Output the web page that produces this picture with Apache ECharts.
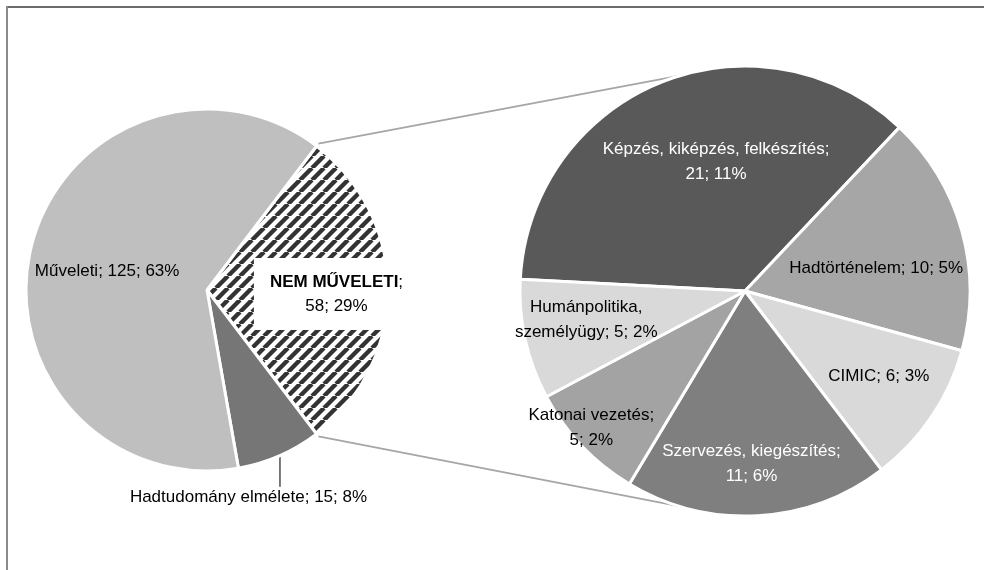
<!DOCTYPE html>
<html>
<head>
<meta charset="utf-8">
<script src="https://cdn.jsdelivr.net/npm/echarts@6/dist/echarts.min.js"></script>
<style>
  html, body { margin: 0; padding: 0; background: #fff; }
  #chart { width: 984px; height: 570px; }
</style>
</head>
<body>
<div id="chart"></div>
<script>
// fő kördiagram
const mainNames = ["NEM MŰVELETI", "Hadtudomány elmélete", "Műveleti"];
const mainValues = [58, 15, 125];
const mainPercents = ["29%", "8%", "63%"];
const mainColors = ["hatch", "#767676", "#bfbfbf"];

// a "NEM MŰVELETI" szelet bontása
const subNames = ["Képzés, kiképzés, felkészítés;", "Hadtörténelem;", "CIMIC;", "Szervezés, kiegészítés;", "Katonai vezetés;", "Humánpolitika,\nszemélyügy;"];
const subValues = [21, 10, 6, 11, 5, 5];
const subPercents = ["11%", "5%", "3%", "6%", "2%", "2%"];
const subColors = ["#595959", "#a6a6a6", "#d9d9d9", "#7f7f7f", "#a3a3a3", "#d9d9d9"];
const subTextColors = ["#fff", "#000", "#000", "#fff", "#000", "#000"];
const subBreak = [true, false, false, true, true, false];

const FONT = '"Liberation Sans", Arial, sans-serif';
const FSIZE = 17;

// geometria
const leftC = [207, 290], leftR = 181;
const rightC = [745, 291], rightR = 225;
const mainTotal = mainValues.reduce((a, b) => a + b, 0);
const halfAngle = mainValues[0] / mainTotal * 180; // a kiemelt szelet fele

// label eltolások (dx, dy)
const mainOffsets = [[36, 4], [4, 122], [-9, 3]];
const subOffsets = [[14, -22], [20, 8], [38, 21], [0, 57], [-70, 57], [-46, 4]];

// sraffozás mintája
function hatchPattern() {
  const s = 12;
  const c = document.createElement("canvas");
  c.width = s; c.height = s;
  const ctx = c.getContext("2d");
  ctx.fillStyle = "#fff";
  ctx.fillRect(0, 0, s, s);
  ctx.strokeStyle = "#333";
  ctx.lineWidth = 4.4;
  [-s, 0, s].forEach(k => {
    ctx.beginPath();
    ctx.moveTo(k, s);
    ctx.lineTo(k + s, 0);
    ctx.stroke();
  });
  return { image: c, repeat: "repeat" };
}

const mainData = mainNames.map((n, i) => {
  const item = {
    name: n,
    value: mainValues[i],
    itemStyle: { color: mainColors[i] === "hatch" ? hatchPattern() : mainColors[i] }
  };
  if (i === 0) {
    item.label = {
      formatter: "{b|" + n + "};\n" + mainValues[i] + "; " + mainPercents[i],
      backgroundColor: "#fff",
      padding: [12, 16, 12, 16],
      lineHeight: 24,
      rich: { b: { fontWeight: "bold", fontSize: FSIZE, fontFamily: FONT, color: "#000", lineHeight: 24 } }
    };
  } else {
    item.label = { formatter: n + "; " + mainValues[i] + "; " + mainPercents[i] };
  }
  return item;
});

const subData = subNames.map((n, i) => ({
  name: n,
  value: subValues[i],
  itemStyle: { color: subColors[i] },
  label: {
    color: subTextColors[i],
    formatter: n + (subBreak[i] ? "\n" : " ") + subValues[i] + "; " + subPercents[i]
  }
}));

const toRad = a => a * Math.PI / 180;
const onCircle = (c, r, deg) => [c[0] + r * Math.cos(toRad(deg)), c[1] - r * Math.sin(toRad(deg))];

// összekötő vonalak a két kör között
const connAngle = 106.8;
const topStart = onCircle(leftC, leftR + 3, halfAngle);
const botStart = onCircle(leftC, leftR + 3, -halfAngle);
const topEnd = onCircle(rightC, rightR, connAngle);
const botEnd = onCircle(rightC, rightR, -connAngle);

// vezetővonal a "Hadtudomány elmélete" címkéhez
const hadMid = -halfAngle - mainValues[1] / mainTotal * 180;
const leadStart = onCircle(leftC, leftR + 1, hadMid);

const option = {
  animation: false,
  backgroundColor: "#fff",
  textStyle: { fontFamily: FONT },
  graphic: [
    { type: "line", shape: { x1: 6, y1: 7, x2: 984, y2: 7 }, style: { stroke: "#6b6b6b", lineWidth: 2 }, silent: true },
    { type: "line", shape: { x1: 7, y1: 6, x2: 7, y2: 570 }, style: { stroke: "#8a8a8a", lineWidth: 2 }, silent: true },
    { type: "line", shape: { x1: topStart[0], y1: topStart[1], x2: topEnd[0], y2: topEnd[1] }, style: { stroke: "#a6a6a6", lineWidth: 1.8 }, silent: true, z: -1 },
    { type: "line", shape: { x1: botStart[0], y1: botStart[1], x2: botEnd[0], y2: botEnd[1] }, style: { stroke: "#a6a6a6", lineWidth: 1.8 }, silent: true, z: -1 },
    { type: "line", shape: { x1: leadStart[0], y1: leadStart[1], x2: leadStart[0], y2: leadStart[1] + 30 }, style: { stroke: "#333", lineWidth: 1.3 }, silent: true }
  ],
  series: [
    {
      type: "pie",
      center: leftC,
      radius: [0, leftR],
      startAngle: halfAngle,
      clockwise: true,
      silent: true,
      emphasis: { disabled: true },
      itemStyle: { borderColor: "#fff", borderWidth: 3 },
      label: {
        show: true,
        position: "inside",
        color: "#000",
        fontSize: FSIZE,
        fontFamily: FONT,
        lineHeight: 24
      },
      labelLine: { show: false },
      labelLayout: p => ({ dx: mainOffsets[p.dataIndex][0], dy: mainOffsets[p.dataIndex][1] }),
      data: mainData
    },
    {
      type: "pie",
      center: rightC,
      radius: [0, rightR],
      startAngle: 177,
      clockwise: true,
      silent: true,
      emphasis: { disabled: true },
      itemStyle: { borderColor: "#fff", borderWidth: 3 },
      label: {
        show: true,
        position: "inside",
        fontSize: FSIZE,
        fontFamily: FONT,
        lineHeight: 25
      },
      labelLine: { show: false },
      labelLayout: p => ({ dx: subOffsets[p.dataIndex][0], dy: subOffsets[p.dataIndex][1] }),
      data: subData
    }
  ]
};

const myChart = echarts.init(document.getElementById("chart"));
myChart.setOption(option);
</script>
</body>
</html>
